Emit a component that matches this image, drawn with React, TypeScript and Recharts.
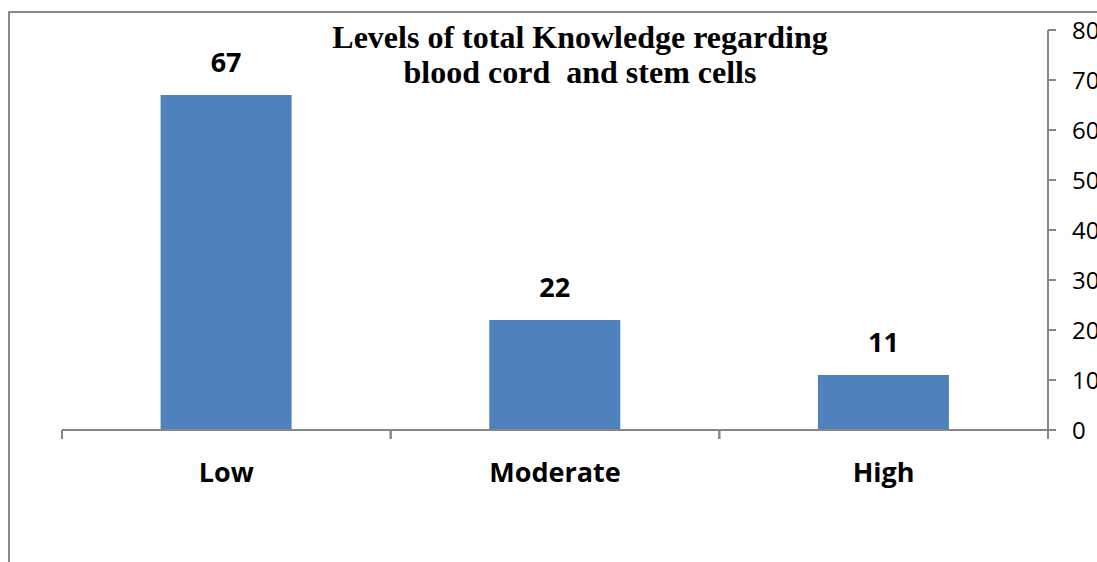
import React from "react";
import { BarChart, Bar, XAxis, YAxis, LabelList } from "recharts";

const categories = ["Low", "Moderate", "High"];
const values = [67, 22, 11];
const yTicks = [0, 10, 20, 30, 40, 50, 60, 70, 80];
const titleLines = ["Levels of total Knowledge regarding", "blood cord  and stem cells"];

const data = categories.map((name, i) => ({ name, value: values[i] }));

const AXIS = "#868686";
const SANS = "'Open Sans', 'Noto Sans', sans-serif";

const YTick = (props: any) => {
  const { x, y, payload } = props;
  return (
    <text x={x} y={y} dy="0.36em" textAnchor="start" fill="#000" fontSize={24} fontFamily={SANS}>
      {payload.value}
    </text>
  );
};

const XTick = (props: any) => {
  const { x, y, payload } = props;
  const half = payload && typeof payload.offset === "number" ? payload.offset : 0;
  return (
    <g>
      <line x1={x - half} x2={x - half} y1={y} y2={y + 9} stroke={AXIS} strokeWidth={2} />
      <line x1={x + half} x2={x + half} y1={y} y2={y + 9} stroke={AXIS} strokeWidth={2} />
      <text
        x={x}
        y={y + 33}
        dy="0.71em"
        textAnchor="middle"
        fill="#000"
        fontSize={27}
        fontWeight="bold"
        fontFamily={SANS}
      >
        {payload.value}
      </text>
    </g>
  );
};

export default function App() {
  return (
    <div style={{ position: "fixed", left: 0, top: 0, width: 1097, height: 562, overflow: "hidden", background: "#fff" }}>
      <div
        style={{
          position: "absolute",
          left: 8,
          top: 11,
          width: 1300,
          height: 800,
          borderLeft: "2px solid #898989",
          borderTop: "2px solid #898989",
        }}
      />
      <div
        style={{
          position: "absolute",
          left: 0,
          width: 1160,
          top: 20,
          textAlign: "center",
          fontFamily: "'Liberation Serif', 'DejaVu Serif', serif",
          fontWeight: "bold",
          fontSize: 32,
          lineHeight: "35px",
          whiteSpace: "pre",
          color: "#000",
        }}
      >
        {titleLines.map((t, i) => (
          <div key={i}>{t}</div>
        ))}
      </div>
      <div style={{ position: "absolute", left: 0, top: 0 }}>
        <BarChart
          width={1097}
          height={562}
          data={data}
          margin={{ top: 30, right: 0, left: 62, bottom: 102 }}
          barCategoryGap="30%"
        >
          <XAxis
            dataKey="name"
            height={30}
            tickLine={false}
            tickSize={0}
            tickMargin={0}
            interval={0}
            stroke={AXIS}
            strokeWidth={2}
            tick={<XTick />}
          />
          <YAxis
            orientation="right"
            domain={[0, 80]}
            ticks={yTicks}
            width={49}
            tickSize={8}
            tickMargin={16}
            stroke={AXIS}
            strokeWidth={2}
            tick={<YTick />}
            interval={0}
          />
          <Bar dataKey="value" fill="#4F81BD" isAnimationActive={false}>
            <LabelList
              dataKey="value"
              position="top"
              offset={23}
              style={{ fill: "#000", fontSize: 27, fontWeight: "bold", fontFamily: SANS }}
            />
          </Bar>
        </BarChart>
      </div>
    </div>
  );
}
